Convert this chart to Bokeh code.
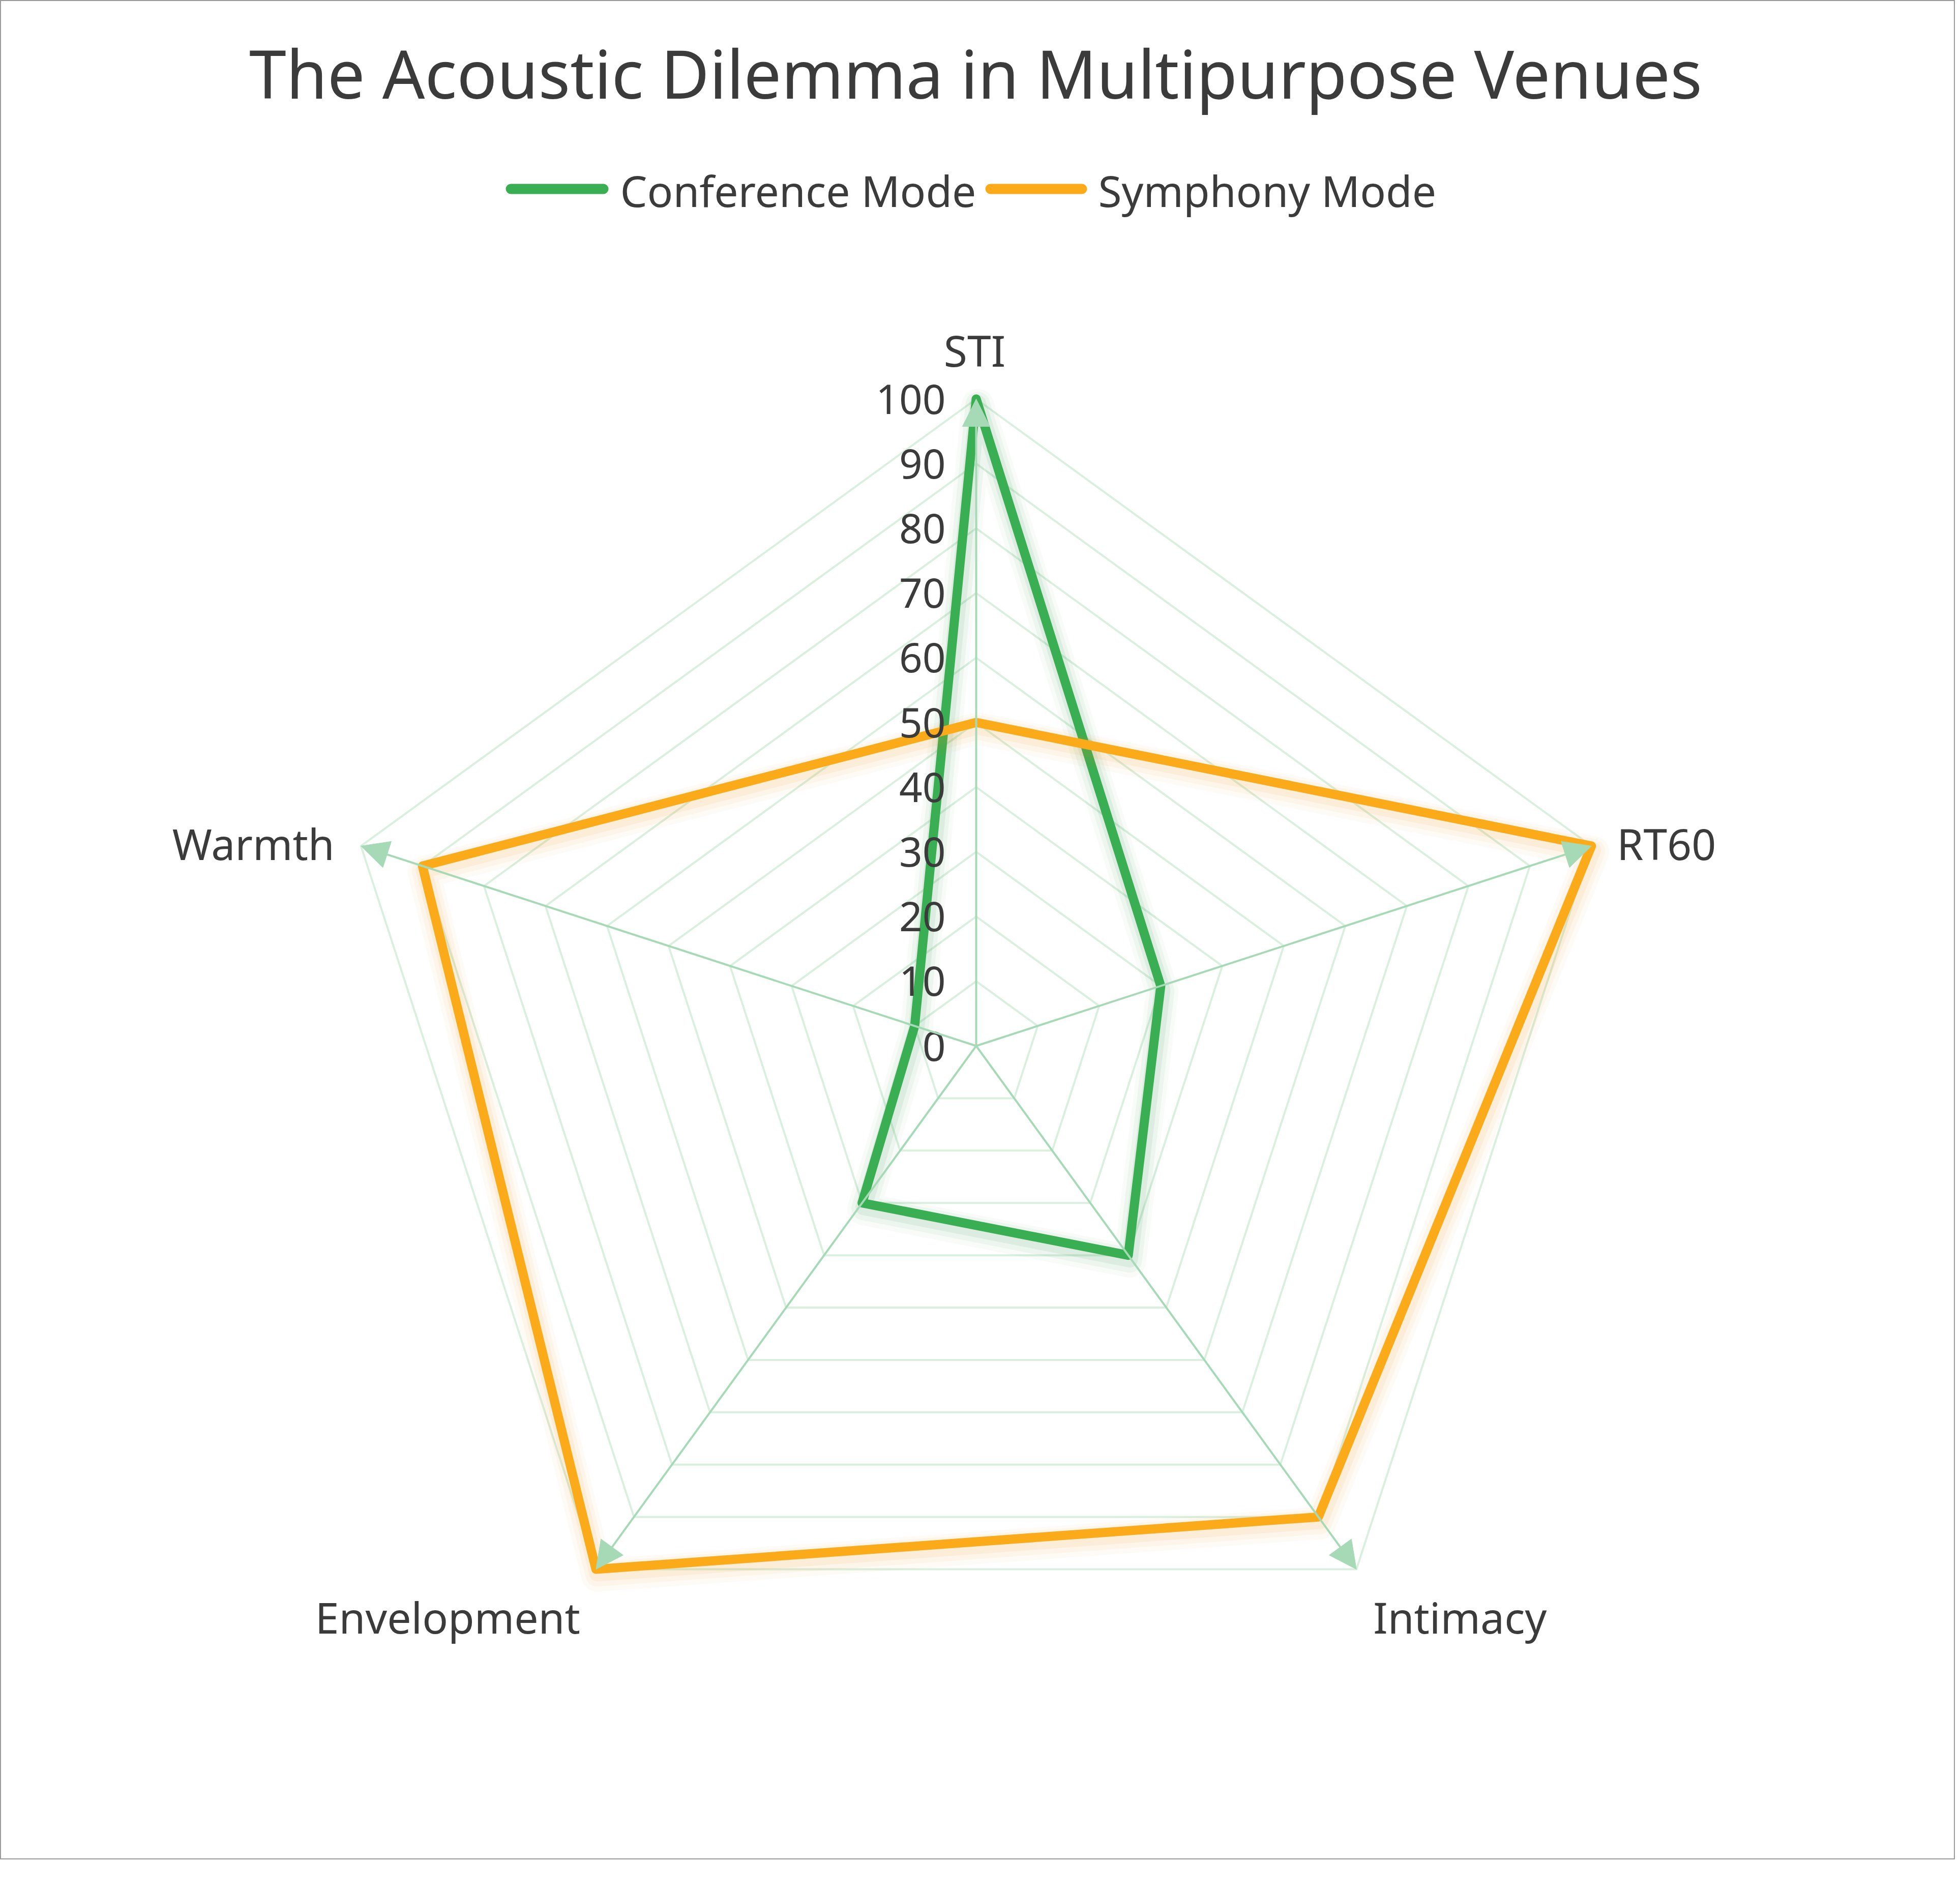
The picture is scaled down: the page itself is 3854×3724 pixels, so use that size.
import math
from bokeh.plotting import figure
from bokeh.models import Range1d, ColumnDataSource, Arrow, NormalHead
from bokeh.core.properties import value
from bokeh.embed import file_html
from bokeh.resources import INLINE

# ---------------- data ----------------
title_text = "The Acoustic Dilemma in Multipurpose Venues"
categories = ["STI", "RT60", "Intimacy", "Envelopment", "Warmth"]
series_names = ["Conference Mode", "Symphony Mode"]
conference = [100, 30, 40, 30, 10]
symphony = [50, 100, 90, 100, 90]
tick_values = [0, 10, 20, 30, 40, 50, 60, 70, 80, 90, 100]
tick_labels = ["0", "10", "20", "30", "40", "50", "60", "70", "80", "90", "100"]

# ---------------- style / layout ----------------
W, H = 3844, 3656
OFF = 8
CX, CY = 1927, 2064        # centre (page px)
R = 1272                   # radius for value 100
VMAX = 100.0
FONT = "Noto Sans"
TXT = "#3b3b3b"
GREEN = "#3aae52"
ORANGE = "#fbab19"
GRID = "#d9f0df"
SPOKE = "#a6dab6"

p = figure(width=W, height=H, output_backend="svg", toolbar_location=None,
           x_range=Range1d(OFF, OFF + W), y_range=Range1d(OFF + H, OFF),
           min_border=0, background_fill_color="white", border_fill_color="white")
p.axis.visible = False
p.grid.visible = False
p.outline_line_color = "#9a9a9a"
p.outline_line_width = 3

n = len(categories)
angles = [2 * math.pi * i / n for i in range(n)]


def pt(v, a):
    r = R * v / VMAX
    return CX + r * math.sin(a), CY - r * math.cos(a)


# grid rings
xs, ys = [], []
for v in tick_values[1:]:
    pts = [pt(v, a) for a in angles] + [pt(v, angles[0])]
    xs.append([q[0] for q in pts])
    ys.append([q[1] for q in pts])
p.multi_line(xs, ys, line_color=GRID, line_width=4)

# spokes with arrow heads
ends = [pt(VMAX, a) for a in angles]
spoke_src = ColumnDataSource(dict(x0=[CX] * n, y0=[CY] * n,
                                  x1=[e[0] for e in ends], y1=[e[1] for e in ends]))
p.add_layout(Arrow(end=NormalHead(size=54, fill_color=SPOKE, line_color=SPOKE, line_width=1),
                   x_start="x0", y_start="y0", x_end="x1", y_end="y1",
                   source=spoke_src, line_color=SPOKE, line_width=4))


def draw_series(vals, color, shadow):
    pts = [pt(v, a) for v, a in zip(vals, angles)]
    pts.append(pts[0])
    x = [q[0] for q in pts]
    y = [q[1] for q in pts]
    for w, al, dy in [(64, 0.035, 12), (48, 0.055, 10), (32, 0.08, 8)]:
        p.line([xx + 3 for xx in x], [yy + dy for yy in y], line_color=shadow,
               line_width=w, line_alpha=al, line_join="round", line_cap="round")
    p.line(x, y, line_color=color, line_width=18, line_join="round", line_cap="round")


draw_series(conference, GREEN, "#2b8a43")
draw_series(symphony, ORANGE, "#f09a10")

# value-axis tick labels
p.text(x=[CX - 60] * len(tick_values), y=[pt(v, 0)[1] for v in tick_values], text=tick_labels,
       text_font=value(FONT), text_font_size=value("80px"), text_color=TXT,
       text_align="right", text_baseline="middle")

# category labels
for cat, a, e in zip(categories, angles, ends):
    s, c = math.sin(a), math.cos(a)
    if c > 0.9:
        x, y, al = e[0] - 3, e[1] - 96, "center"
    elif c < -0.5:
        x, y = e[0] + (33 if s > 0 else -31), e[1] + 94
        al = "left" if s > 0 else "right"
    else:
        x, y = e[0] + (50 if s > 0 else -52), e[1] - 5
        al = "left" if s > 0 else "right"
    p.text(x=[x], y=[y], text=[cat], text_font=value(FONT), text_font_size=value("84px"),
           text_color=TXT, text_align=al, text_baseline="middle")

# title
p.text(x=[OFF + W / 2 - 4], y=[150], text=[title_text], text_font=value(FONT),
       text_font_size=value("131px"), text_color=TXT, text_align="center", text_baseline="middle")

# legend
leg_y = 379
for name, color, lx0, lx1, tx in [(series_names[0], GREEN, 1012, 1194, 1227),
                                  (series_names[1], ORANGE, 1955, 2135, 2167)]:
    p.line([lx0, lx1], [leg_y, leg_y], line_color=color, line_width=20, line_cap="round")
    p.text(x=[tx], y=[leg_y + 3], text=[name], text_font=value(FONT), text_font_size=value("84px"),
           text_color=TXT, text_align="left", text_baseline="middle")

open("out.html", "w").write(file_html(p, INLINE))
